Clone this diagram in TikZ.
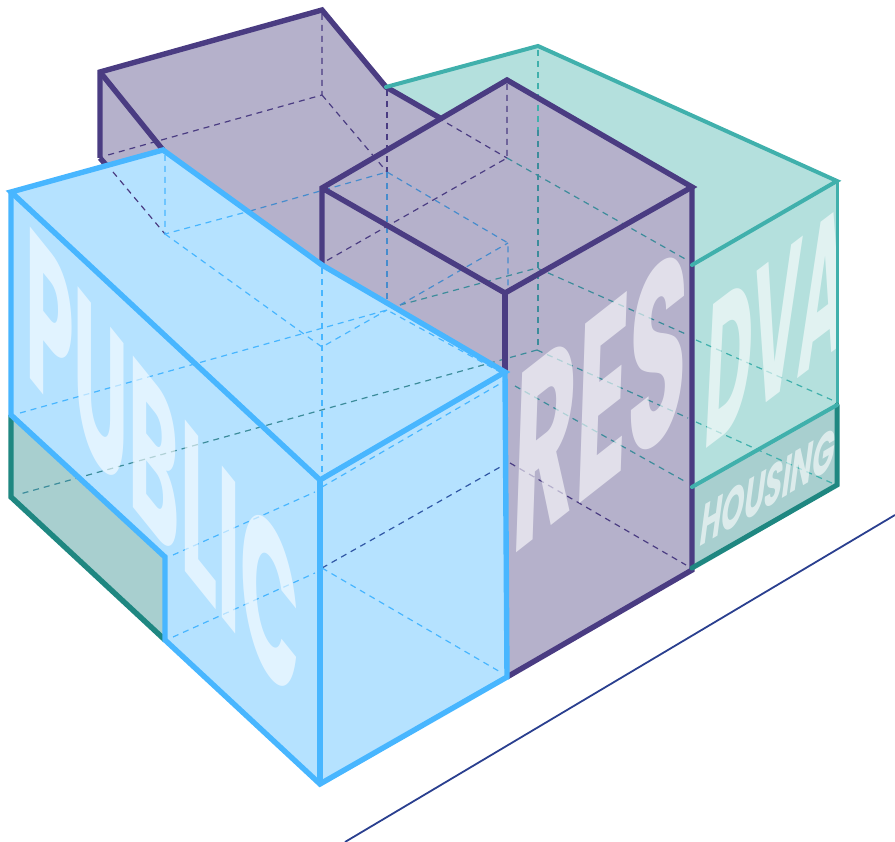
\documentclass[tikz,border=0pt]{standalone}
\usepackage{fontspec}
\setmainfont{Poppins}
\definecolor{pubblue}{RGB}{72,182,255}
\definecolor{pubfill}{RGB}{181,226,255}
\definecolor{respurple}{RGB}{74,60,130}
\definecolor{resfill}{RGB}{181,177,203}
\definecolor{dvateal}{RGB}{64,176,172}
\definecolor{dvafill}{RGB}{180,224,221}
\definecolor{hsgteal}{RGB}{31,135,129}
\definecolor{hsgfill}{RGB}{168,207,207}
\definecolor{midblue}{RGB}{70,140,205}
\definecolor{midteal}{RGB}{60,140,155}
\definecolor{streetblue}{RGB}{42,63,143}
\tikzset{
  hidden/.style={line width=1.2pt, dash pattern=on 6pt off 5pt},
  wallword/.style={anchor=base west, inner sep=0pt, transform shape, text=white,
    text opacity=.6, font=\fontsize{100}{100}\selectfont\bfseries}
}

\begin{document}
\begin{tikzpicture}[x=1pt, y=-1pt, line join=miter]
  \useasboundingbox (0,0) rectangle (895,842);

  % fills
  \fill[dvafill] (386,87) -- (538,46) -- (837,181) -- (837,405) -- (692,487) -- (507,300) -- cycle;
  \fill[hsgfill] (692,487) -- (837,405) -- (837,485) -- (692,568) -- cycle;
  \fill[resfill] (100,72) -- (322,10) -- (386,87) -- (440,118) -- (507,80) -- (692,187)
    -- (692,570) -- (507,677) -- (505,372) -- (322,265) -- (163,170) -- (110,170) -- (100,158) -- cycle;
  \fill[hsgfill] (11,415) -- (165,557) -- (165,640) -- (11,497) -- cycle;
  \fill[pubfill] (11,192) -- (163,150) -- (322,265) -- (505,372) -- (507,677) -- (320,784)
    -- (165,640) -- (165,557) -- (11,415) -- cycle;

  % hidden edges
  \draw[hidden, respurple] (322,14) -- (322,95) -- (108,155);
  \draw[hidden, respurple] (322,95) -- (387,172);
  \draw[hidden, respurple] (387,90) -- (387,172);
  \draw[hidden, respurple] (113,172) -- (165,234);
  \draw[hidden, respurple] (507,84) -- (507,158) -- (326,261);
  \draw[hidden, respurple] (390,90) -- (507,158);
  \draw[hidden, midteal] (507,158) -- (687,260);
  \draw[hidden, dvateal] (538,50) -- (538,130);
  \draw[hidden, midteal] (538,130) -- (538,350);
  \draw[hidden, midteal] (400,305) -- (537,268) -- (688,335);
  \draw[hidden, dvateal] (696,340) -- (832,400);
  \draw[hidden, midteal] (537,350) -- (688,418);
  \draw[hidden, dvateal] (696,422) -- (834,484);
  \draw[hidden, midteal] (537,350) -- (20,494);
  \draw[hidden, midteal] (515,386) -- (686,482);
  \draw[hidden, respurple] (510,463) -- (686,565);
  \draw[hidden, midblue] (250,211) -- (387,172) -- (508,243) -- (508,288);
  \draw[hidden, midblue] (387,172) -- (387,305);
  \draw[hidden, midblue] (400,305) -- (508,243);
  \draw[hidden, pubblue] (165,155) -- (165,234) -- (250,211);
  \draw[hidden, pubblue] (165,234) -- (322,347) -- (387,310);
  \draw[hidden, pubblue] (322,268) -- (322,480);
  \draw[hidden, pubblue] (20,413) -- (387,310) -- (500,372);
  \draw[hidden, pubblue] (173,555) -- (315,492);
  \draw[hidden, pubblue] (173,637) -- (315,573);
  \draw[hidden, pubblue] (322,487) -- (503,382);
  \draw[hidden, pubblue] (322,568) -- (502,673);
  \draw[hidden, streetblue!80!pubblue] (322,568) -- (502,466);

  % wall lettering
  \node[wallword, cm={.78,-.97,0,2.16,(25,372)}] (pub) {PUBLIC};
  \node[wallword, cm={.97,.76,.087,2.56,(510,558)}] (res) {RES};
  \node[wallword, cm={.65,.494,.1,2.05,(702,452)}] (dva) {DVA};
  \node[wallword, cm={.29,.17,.08,.6,(698,548)}] (hsg) {HOUSING};

  % outlines
  \begin{scope}[line width=5.4pt]
    \draw[respurple] (100,158) -- (100,72) -- (322,10) -- (386,87) -- (440,118);
    \draw[respurple] (100,158) -- (107,166);
    \draw[respurple] (100,72) -- (163,150);
    \draw[respurple] (322,265) -- (322,188) -- (507,80) -- (692,187) -- (505,293) -- (322,188);
    \draw[respurple] (505,293) -- (505,372);
    \draw[respurple] (692,187) -- (692,570) -- (507,677);
    \draw[hsgteal] (11,415) -- (11,497) -- (165,640);
    \draw[pubblue] (505,372) -- (322,265) -- (163,150) -- (11,192) -- (320,480) -- cycle;
    \draw[pubblue] (11,192) -- (11,415) -- (165,557) -- (165,640) -- (320,784) -- (507,677) -- (505,372);
    \draw[pubblue] (320,480) -- (320,784);
  \end{scope}
  \begin{scope}[line width=4pt, line cap=round]
    \draw[dvateal] (386,87) -- (538,46) -- (837,181) -- (692,265);
    \draw[dvateal, line width=3pt] (837,181) -- (837,405);
    \draw[hsgteal, line width=5pt] (837,405) -- (837,485) -- (692,568);
    \draw[dvateal] (837,405) -- (692,487);
  \end{scope}

  % street edge
  \draw[streetblue, line width=1.8pt] (345,842) -- (895,515);
\end{tikzpicture}
\end{document}
